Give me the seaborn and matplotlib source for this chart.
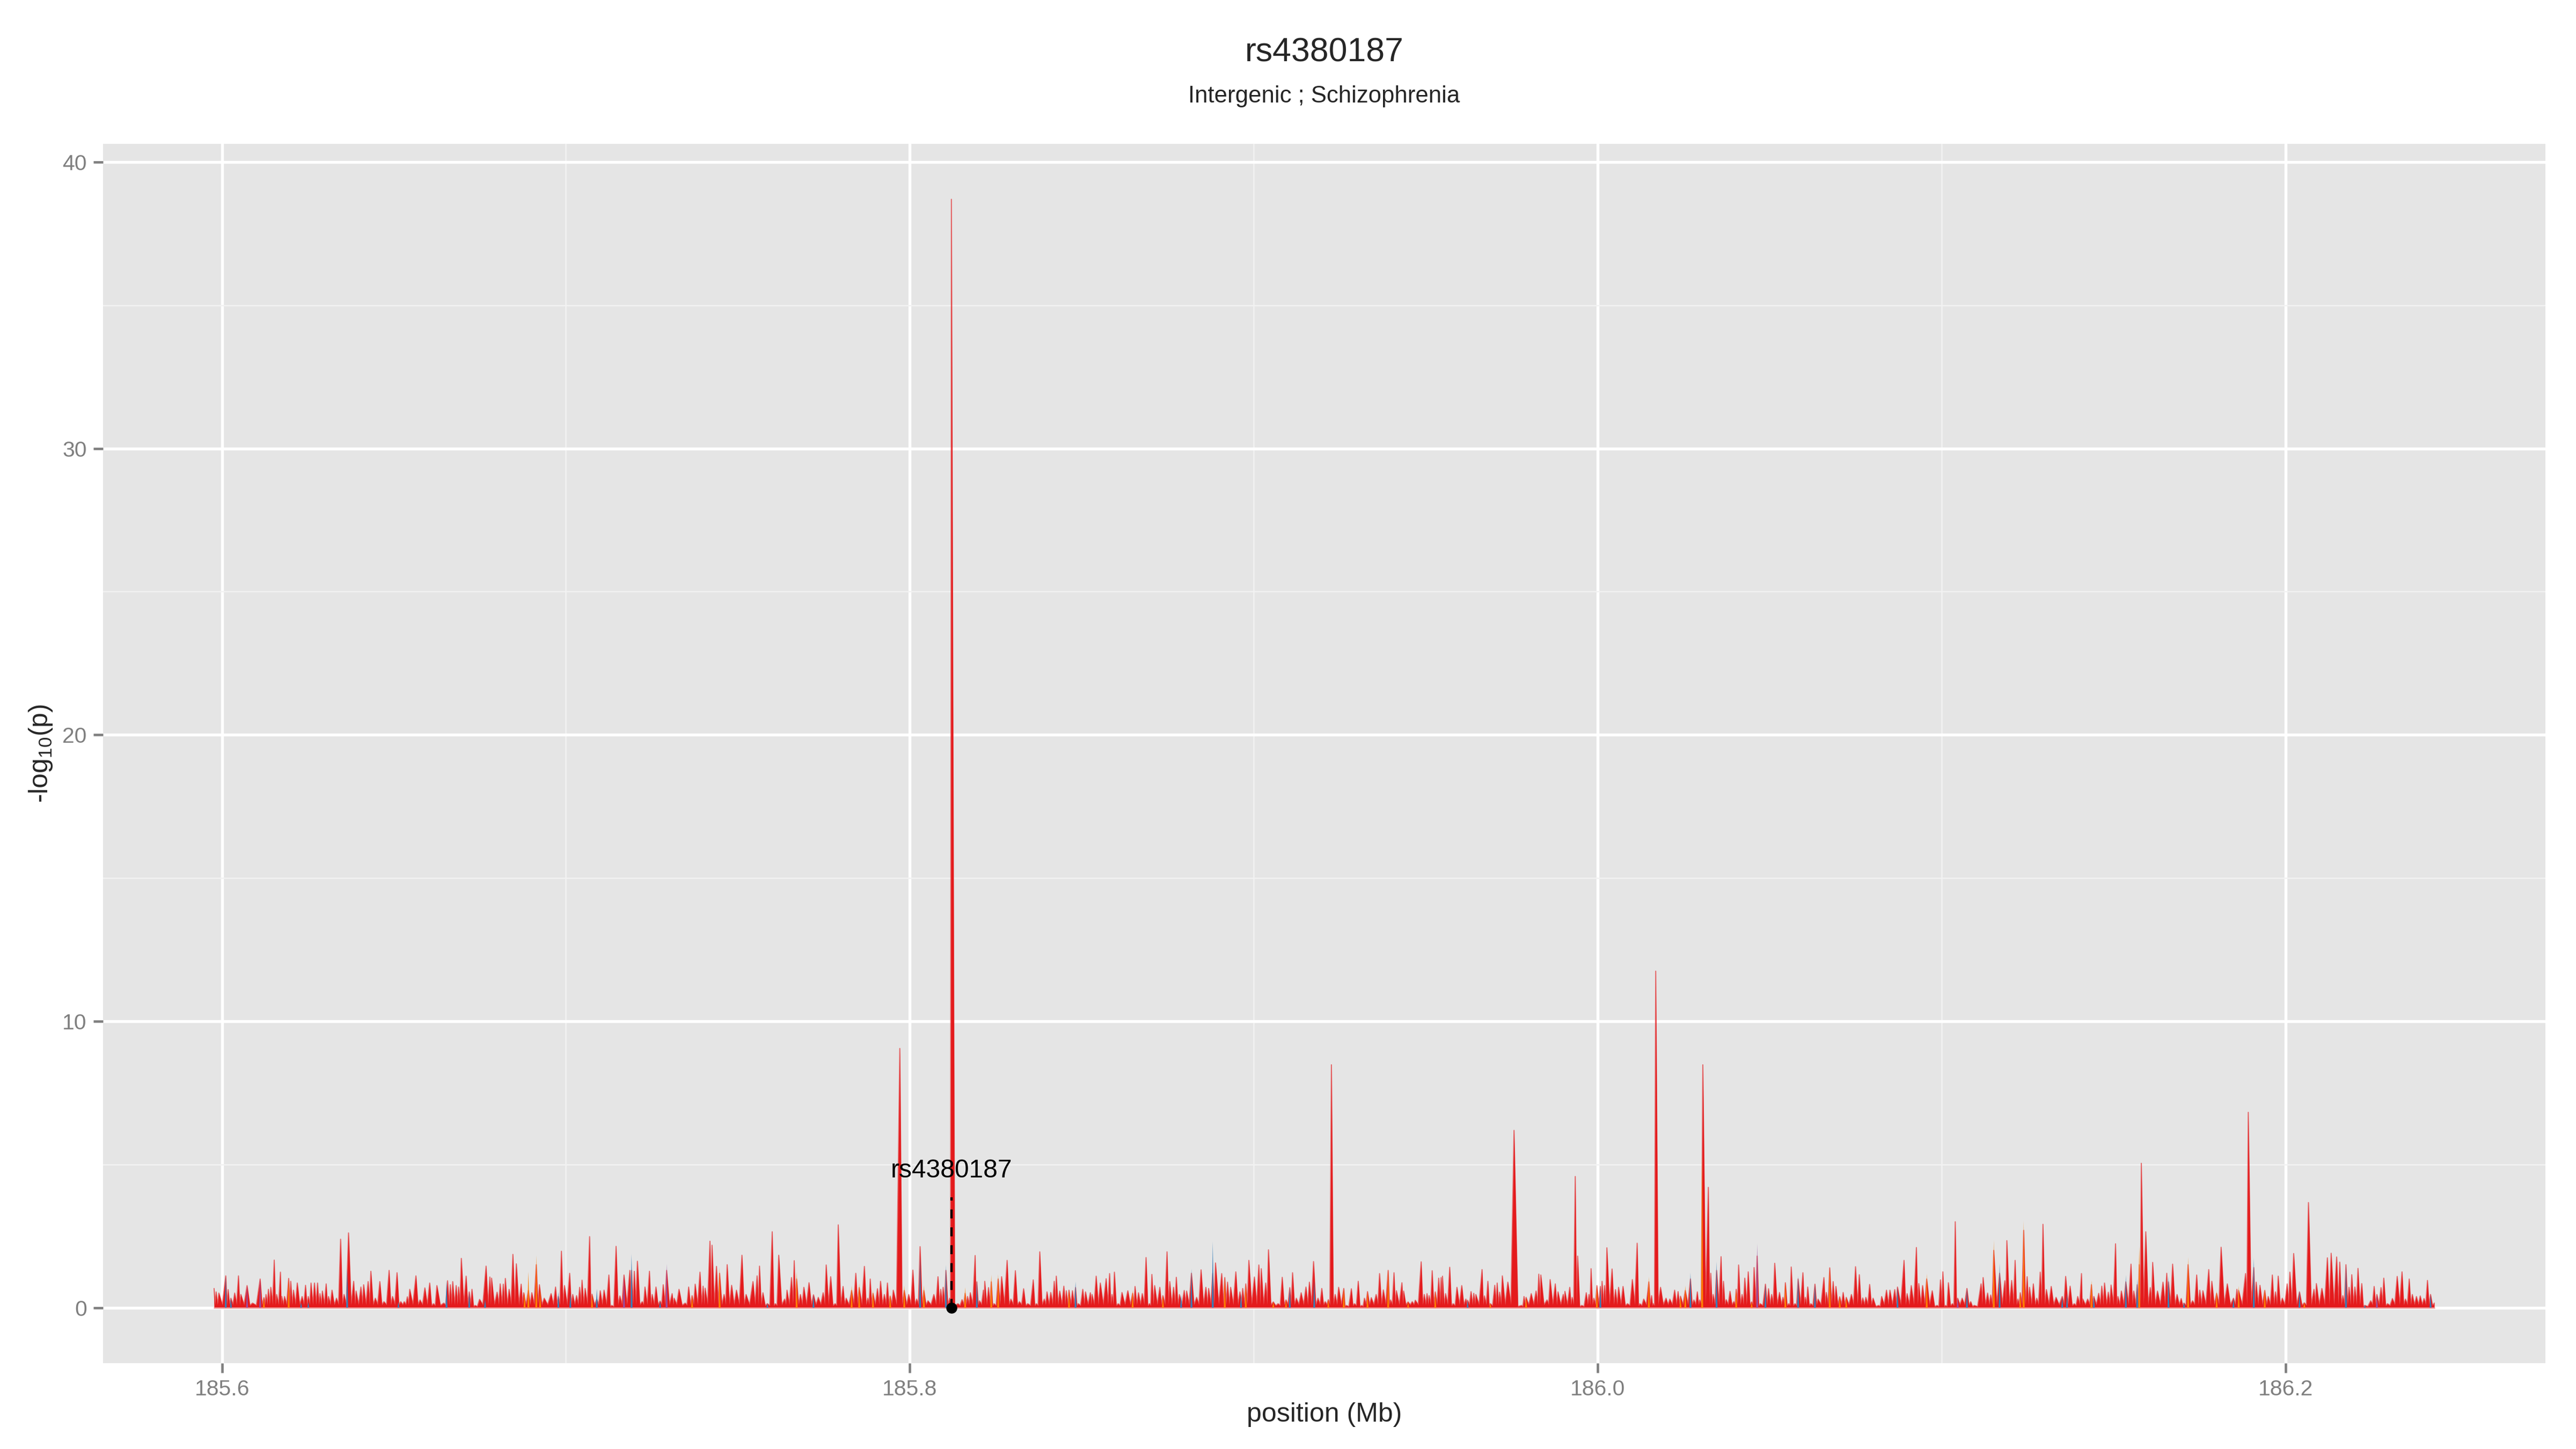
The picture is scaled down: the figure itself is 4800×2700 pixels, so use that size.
import numpy as np
import pandas as pd
import matplotlib
matplotlib.use("Agg")
import matplotlib.pyplot as plt
from matplotlib.ticker import FixedLocator
import seaborn as sns

# ---------------- data (position in Mb, -log10 p) ----------------
title = "rs4380187"
subtitle = "Intergenic ; Schizophrenia"
snp_name = "rs4380187"
snp_pos = 185.8121
snp_line_top = 3.85
snp_label_y = 4.78

x_ticks = [185.6, 185.8, 186.0, 186.2]
x_minor = [185.7, 185.9, 186.1]
y_ticks = [0, 10, 20, 30, 40]
y_minor = [5, 15, 25, 35]

red_a = [(185.5977, 0.67), (185.5983, 0.55), (185.5991, 0.51), (185.6011, 1.11), (185.6018, 0.63),
         (185.6026, 0.33), (185.6037, 0.51), (185.6048, 1.11), (185.6055, 0.46), (185.6073, 0.77),
         (185.6089, 0.16), (185.6111, 1.00), (185.6122, 0.35), (185.6128, 0.46), (185.6135, 0.64),
         (185.6142, 0.71), (185.6152, 1.66), (185.6159, 0.46), (185.6170, 1.24), (185.6174, 0.39),
         (185.6182, 0.39), (185.6194, 1.02), (185.6200, 0.92), (185.6208, 0.61), (185.6219, 0.86),
         (185.6233, 0.39), (185.6243, 0.78), (185.6251, 0.39), (185.6259, 0.86), (185.6269, 0.86),
         (185.6278, 0.86), (185.6285, 0.49), (185.6292, 0.58), (185.6303, 0.83), (185.6310, 0.39),
         (185.6320, 0.61), (185.6333, 0.33), (185.6345, 2.39), (185.6355, 0.46), (185.6368, 2.61),
         (185.6383, 0.92), (185.6390, 0.58), (185.6404, 0.72), (185.6412, 0.80), (185.6425, 0.91),
         (185.6433, 1.27), (185.6446, 0.33), (185.6459, 0.91), (185.6471, 0.21), (185.6486, 1.30),
         (185.6496, 0.39), (185.6509, 1.22), (185.6520, 0.21), (185.6530, 0.21), (185.6539, 0.38),
         (185.6546, 0.64), (185.6564, 1.11), (185.6576, 0.27), (185.6590, 0.69), (185.6604, 0.86),
         (185.6615, 0.14), (185.6625, 0.77), (185.6645, 0.16), (185.6656, 0.94), (185.6664, 0.80),
         (185.6671, 0.91), (185.6681, 0.77), (185.6688, 0.72), (185.6696, 1.72), (185.6710, 1.10),
         (185.6719, 0.55), (185.6727, 0.64), (185.6736, 0.08), (185.6749, 0.29), (185.6768, 1.45),
         (185.6779, 1.07), (185.6784, 1.03), (185.6800, 0.54), (185.6809, 0.83), (185.6818, 0.82),
         (185.6824, 1.02), (185.6835, 0.64), (185.6846, 1.86), (185.6856, 1.53), (185.6870, 0.82),
         (185.6877, 0.52), (185.6891, 0.60), (185.6901, 0.52), (185.6914, 1.50), (185.6923, 0.80),
         (185.6937, 0.33), (185.6957, 0.49), (185.6970, 0.72), (185.6978, 0.39), (185.6987, 1.97),
         (185.6996, 0.77), (185.7011, 1.20), (185.7020, 0.46), (185.7031, 0.42), (185.7040, 0.71)]

red_b = [(185.7047, 0.96), (185.7056, 0.67), (185.7069, 2.48), (185.7076, 0.47), (185.7090, 0.30),
         (185.7100, 0.59), (185.7111, 0.61), (185.7125, 1.14), (185.7133, 0.08), (185.7146, 2.14),
         (185.7157, 0.41), (185.7169, 1.14), (185.7186, 1.30), (185.7191, 1.30), (185.7199, 1.27),
         (185.7208, 1.62), (185.7222, 0.21), (185.7230, 0.72), (185.7243, 1.27), (185.7251, 0.46),
         (185.7262, 0.72), (185.7274, 0.23), (185.7283, 0.80), (185.7293, 1.30), (185.7309, 0.49),
         (185.7315, 0.33), (185.7329, 0.64), (185.7347, 0.16), (185.7357, 0.72), (185.7367, 0.42),
         (185.7376, 0.82), (185.7390, 1.24), (185.7399, 0.75), (185.7405, 0.68), (185.7419, 2.32),
         (185.7425, 2.18), (185.7438, 1.44), (185.7447, 1.20), (185.7460, 0.46), (185.7469, 1.50),
         (185.7482, 0.78), (185.7496, 0.61), (185.7512, 1.83), (185.7524, 0.46), (185.7544, 0.91),
         (185.7556, 1.11), (185.7563, 1.45), (185.7573, 0.52), (185.7586, 0.14), (185.7600, 2.65),
         (185.7609, 0.14), (185.7619, 1.83), (185.7636, 0.30), (185.7643, 0.61), (185.7656, 1.05),
         (185.7664, 1.64), (185.7671, 1.00), (185.7682, 0.46), (185.7692, 0.71), (185.7707, 0.87),
         (185.7720, 0.45), (185.7734, 0.36), (185.7748, 0.52), (185.7757, 1.49), (185.7770, 1.08),
         (185.7783, 0.14), (185.7792, 2.89), (185.7806, 0.74), (185.7815, 0.33), (185.7831, 0.60),
         (185.7843, 1.20), (185.7853, 0.70), (185.7868, 1.44), (185.7878, 0.33), (185.7885, 1.00),
         (185.7893, 0.50), (185.7906, 0.66), (185.7915, 0.92), (185.7926, 0.46), (185.7935, 0.86),
         (185.7943, 0.40), (185.7952, 0.61), (185.7971, 9.05), (185.7984, 0.60), (185.7997, 0.46),
         (185.8009, 1.31), (185.8020, 0.30), (185.8030, 2.13), (185.8041, 0.60), (185.8053, 0.24),
         (185.8070, 0.46), (185.8082, 1.08), (185.8090, 0.64), (185.8097, 0.71), (185.8105, 1.30),
         (185.8116, 0.33), (185.8121, 38.70)]

red_c = [(185.8140, 0.14), (185.8152, 0.28), (185.8161, 0.50), (185.8168, 0.39), (185.8176, 0.52),
         (185.8190, 1.82), (185.8195, 0.90), (185.8203, 0.24), (185.8214, 0.61), (185.8218, 0.92),
         (185.8229, 0.70), (185.8237, 0.90), (185.8245, 0.14), (185.8257, 1.00), (185.8267, 1.08),
         (185.8283, 1.65), (185.8294, 0.30), (185.8307, 1.29), (185.8319, 0.21), (185.8331, 0.66),
         (185.8343, 0.14), (185.8359, 0.97), (185.8368, 0.14), (185.8378, 1.95), (185.8391, 0.30),
         (185.8399, 0.55), (185.8410, 0.53), (185.8420, 0.92), (185.8426, 1.10), (185.8436, 0.58),
         (185.8448, 0.75), (185.8455, 0.59), (185.8463, 0.61), (185.8473, 0.59), (185.8482, 0.70),
         (185.8490, 0.14), (185.8503, 0.64), (185.8511, 0.55), (185.8525, 0.52), (185.8530, 0.46),
         (185.8542, 1.10), (185.8554, 0.86), (185.8571, 1.01), (185.8581, 1.19), (185.8588, 0.46),
         (185.8595, 1.24), (185.8606, 0.14), (185.8617, 0.53), (185.8634, 0.59), (185.8648, 0.50),
         (185.8655, 0.74), (185.8665, 0.52), (185.8676, 0.49), (185.8687, 1.75), (185.8697, 0.14),
         (185.8704, 1.16), (185.8712, 0.77), (185.8727, 0.71), (185.8736, 0.42), (185.8748, 1.95),
         (185.8756, 0.91), (185.8767, 0.71), (185.8775, 1.06), (185.8784, 0.46), (185.8798, 0.60),
         (185.8805, 0.58), (185.8819, 1.20), (185.8834, 0.36), (185.8847, 1.32), (185.8861, 0.71),
         (185.8869, 0.67), (185.8881, 1.20), (185.8889, 1.56), (185.8907, 1.19), (185.8916, 1.05),
         (185.8924, 0.89), (185.8933, 0.71), (185.8948, 1.25), (185.8960, 0.55), (185.8968, 0.67),
         (185.8977, 0.83), (185.8986, 1.65), (185.9002, 1.07), (185.9015, 1.49), (185.9022, 1.36),
         (185.9035, 0.86), (185.9043, 2.02), (185.9057, 0.20), (185.9071, 0.14), (185.9083, 1.06),
         (185.9094, 0.27), (185.9105, 0.70), (185.9113, 1.22), (185.9124, 0.33), (185.9138, 0.52),
         (185.9152, 0.72), (185.9162, 0.89), (185.9174, 1.61), (185.9187, 0.33), (185.9198, 0.67),
         (185.9208, 0.21), (185.9217, 0.28)]

red_d = [(185.9226, 8.48), (185.9237, 0.46), (185.9247, 0.71), (185.9262, 0.67), (185.9269, 0.08),
         (185.9284, 0.66), (185.9293, 0.14), (185.9304, 0.92), (185.9314, 0.08), (185.9322, 0.33),
         (185.9331, 0.56), (185.9342, 0.35), (185.9356, 0.46), (185.9366, 1.19), (185.9377, 0.62),
         (185.9391, 1.30), (185.9398, 0.27), (185.9408, 1.22), (185.9415, 0.59), (185.9431, 0.87),
         (185.9436, 0.58), (185.9449, 0.20), (185.9461, 0.21), (185.9470, 0.26), (185.9487, 1.60),
         (185.9496, 0.46), (185.9504, 0.49), (185.9510, 0.42), (185.9519, 1.29), (185.9528, 0.55),
         (185.9538, 1.03), (185.9545, 1.05), (185.9549, 1.10), (185.9558, 0.49), (185.9570, 1.41),
         (185.9580, 0.14), (185.9591, 0.71), (185.9605, 0.77), (185.9617, 0.30), (185.9622, 0.26),
         (185.9632, 0.56), (185.9640, 0.50), (185.9646, 0.46), (185.9664, 1.33), (185.9671, 0.41),
         (185.9681, 0.92), (185.9688, 0.14), (185.9701, 0.78), (185.9708, 0.86), (185.9715, 0.54),
         (185.9723, 1.11), (185.9739, 0.89), (185.9757, 6.19), (185.9779, 0.08), (185.9786, 0.39),
         (185.9792, 0.36), (185.9807, 0.49), (185.9821, 0.58), (185.9829, 1.17), (185.9835, 1.14),
         (185.9853, 0.27), (185.9862, 0.98), (185.9877, 0.83), (185.9885, 0.55), (185.9900, 0.46),
         (185.9905, 0.57), (185.9919, 0.71), (185.9926, 0.36), (185.9935, 4.58), (185.9942, 1.80),
         (185.9954, 0.08), (185.9967, 0.52), (185.9975, 0.46), (185.9981, 1.36), (185.9989, 0.33),
         (185.9998, 0.77), (186.0008, 0.74), (186.0013, 0.92), (186.0020, 0.77), (186.0027, 2.09),
         (186.0042, 1.35), (186.0052, 0.63), (186.0061, 0.71), (186.0074, 0.74), (186.0087, 0.14),
         (186.0101, 0.98), (186.0115, 2.25), (186.0123, 0.14), (186.0134, 0.30), (186.0149, 0.90),
         (186.0157, 0.42), (186.0162, 0.14), (186.0169, 11.75), (186.0183, 0.71), (186.0199, 0.33),
         (186.0210, 0.30), (186.0224, 0.61), (186.0234, 0.56), (186.0241, 0.40), (186.0255, 0.60),
         (186.0270, 1.00), (186.0280, 0.27), (186.0290, 0.55), (186.0297, 0.27), (186.0306, 8.48)]

red_e = [(186.0322, 4.20), (186.0329, 1.20), (186.0336, 0.46), (186.0346, 1.30), (186.0359, 1.78),
         (186.0366, 0.92), (186.0374, 0.28), (186.0385, 0.57), (186.0396, 0.21), (186.0403, 0.64),
         (186.0410, 1.49), (186.0420, 0.46), (186.0428, 1.03), (186.0438, 1.25), (186.0448, 0.20),
         (186.0455, 1.40), (186.0464, 1.80), (186.0473, 0.14), (186.0488, 0.82), (186.0497, 0.66),
         (186.0506, 0.46), (186.0515, 1.55), (186.0529, 0.53), (186.0539, 0.36), (186.0546, 0.87),
         (186.0556, 0.14), (186.0563, 1.42), (186.0574, 0.14), (186.0583, 1.00), (186.0597, 1.22),
         (186.0604, 0.36), (186.0611, 0.72), (186.0620, 0.14), (186.0632, 0.82), (186.0641, 0.30),
         (186.0658, 1.05), (186.0665, 0.53), (186.0675, 1.39), (186.0685, 0.91), (186.0693, 0.74),
         (186.0704, 0.38), (186.0714, 0.53), (186.0723, 0.36), (186.0738, 0.46), (186.0750, 1.43),
         (186.0761, 1.15), (186.0771, 0.34), (186.0780, 0.36), (186.0791, 0.81), (186.0801, 0.33),
         (186.0817, 0.08), (186.0826, 0.39), (186.0840, 0.61), (186.0850, 0.61), (186.0864, 0.63),
         (186.0872, 0.72), (186.0891, 1.65), (186.0900, 0.49), (186.0912, 0.77), (186.0927, 2.10),
         (186.0934, 0.84), (186.0945, 0.77), (186.0957, 1.00), (186.0973, 0.59), (186.0987, 0.08),
         (186.0997, 0.97), (186.1004, 1.25), (186.1012, 0.08), (186.1020, 0.87), (186.1032, 0.14),
         (186.1040, 3.00), (186.1047, 0.33), (186.1060, 0.33), (186.1074, 0.67), (186.1085, 0.21),
         (186.1095, 0.08), (186.1115, 0.83), (186.1121, 1.05), (186.1134, 0.51), (186.1143, 0.44),
         (186.1152, 2.00), (186.1169, 1.20), (186.1184, 0.94), (186.1190, 2.34), (186.1204, 0.95),
         (186.1214, 1.65), (186.1222, 0.30), (186.1229, 0.52), (186.1239, 2.70), (186.1249, 1.08),
         (186.1256, 0.71), (186.1267, 0.83), (186.1277, 0.33), (186.1287, 1.24), (186.1295, 2.91),
         (186.1305, 0.63), (186.1319, 0.74), (186.1333, 0.36), (186.1351, 0.39), (186.1361, 1.09),
         (186.1374, 0.75), (186.1386, 0.14), (186.1396, 0.39), (186.1407, 1.19)]

red_f = [(186.1411, 0.30), (186.1425, 0.30), (186.1436, 0.80), (186.1443, 0.39), (186.1457, 0.50),
         (186.1466, 0.75), (186.1474, 0.86), (186.1485, 0.54), (186.1493, 0.79), (186.1506, 2.23),
         (186.1513, 0.39), (186.1523, 0.58), (186.1536, 0.90), (186.1551, 1.52), (186.1559, 0.58),
         (186.1569, 0.80), (186.1575, 1.50), (186.1581, 5.04), (186.1594, 2.65), (186.1607, 0.70),
         (186.1614, 1.58), (186.1628, 0.58), (186.1644, 0.89), (186.1655, 1.20), (186.1660, 0.90),
         (186.1672, 1.52), (186.1685, 0.46), (186.1697, 0.32), (186.1705, 0.16), (186.1717, 1.50),
         (186.1730, 0.24), (186.1742, 1.14), (186.1751, 0.61), (186.1760, 0.59), (186.1777, 1.33),
         (186.1786, 0.92), (186.1800, 0.50), (186.1813, 2.11), (186.1831, 0.83), (186.1849, 0.33),
         (186.1859, 0.64), (186.1864, 0.60), (186.1884, 1.19), (186.1892, 6.82), (186.1908, 1.40),
         (186.1915, 0.89), (186.1926, 0.78), (186.1940, 0.60), (186.1950, 0.39), (186.1962, 1.14),
         (186.1971, 0.55), (186.1979, 1.10), (186.1991, 0.33), (186.2005, 0.83), (186.2013, 1.24),
         (186.2024, 1.89), (186.2041, 0.55), (186.2055, 0.17), (186.2067, 3.67), (186.2083, 0.64),
         (186.2090, 0.84), (186.2106, 0.67), (186.2122, 1.74), (186.2133, 1.90), (186.2149, 1.77),
         (186.2158, 1.59), (186.2167, 0.42), (186.2176, 1.50), (186.2185, 0.71), (186.2193, 1.15),
         (186.2202, 0.72), (186.2211, 1.37), (186.2222, 0.84), (186.2231, 0.08), (186.2248, 0.24),
         (186.2258, 0.74), (186.2266, 0.46), (186.2278, 0.70), (186.2286, 1.03), (186.2297, 0.14),
         (186.2311, 0.32), (186.2325, 1.09), (186.2339, 1.25), (186.2349, 0.30), (186.2360, 1.00),
         (186.2369, 0.46), (186.2381, 0.39), (186.2392, 0.41), (186.2403, 0.32), (186.2413, 0.95),
         (186.2422, 0.46), (186.2433, 0.16)]

orange_snps = [(185.6122, 0.35), (185.6194, 1.02), (185.6880, 0.55), (185.6891, 1.25), (185.6914, 1.82),
               (185.6925, 0.60), (185.7076, 0.47), (185.7367, 0.42), (185.7447, 1.41), (185.7671, 1.25),
               (185.7831, 0.77), (185.7853, 0.86), (185.7893, 0.61), (185.7943, 0.46), (185.7984, 0.77),
               (185.8041, 0.78), (185.8161, 0.71), (185.8237, 1.15), (185.8257, 1.17), (185.8463, 0.61),
               (185.8648, 0.61), (185.8736, 0.42), (185.8916, 1.05), (185.8977, 0.83), (185.9057, 0.20),
               (185.9094, 0.27), (185.9217, 0.28), (185.9262, 0.67), (185.9331, 0.56), (185.9391, 1.34),
               (185.9449, 0.20), (185.9528, 0.55), (185.9688, 0.15), (185.9792, 0.36), (185.9998, 0.77),
               (186.0149, 1.08), (186.0241, 0.40), (186.0255, 0.77), (186.0304, 5.40), (186.0403, 0.64),
               (186.0448, 0.20), (186.0546, 0.87), (186.0675, 1.39), (186.0704, 0.38), (186.0723, 0.36),
               (186.0957, 1.19), (186.1152, 2.36), (186.1229, 0.52), (186.1239, 3.03), (186.1436, 0.95),
               (186.1575, 2.14), (186.1717, 1.77), (186.1800, 0.60), (186.1864, 0.76), (186.1940, 0.66),
               (186.2055, 0.17)]

blue_snps = [(185.6011, 1.11), (185.6026, 0.33), (185.6230, 0.18), (185.6251, 0.20), (185.6364, 1.39),
             (185.6513, 0.20), (185.6653, 0.95), (185.6719, 0.55), (185.6765, 0.30), (185.6978, 0.55),
             (185.7013, 0.50), (185.7090, 0.66), (185.7191, 1.88), (185.7274, 0.23), (185.7586, 0.15),
             (185.7720, 0.45), (185.8030, 1.80), (185.8105, 1.49), (185.8195, 0.97), (185.8482, 0.91),
             (185.8789, 0.45), (185.8819, 1.36), (185.8881, 2.31), (185.8963, 0.50), (185.9105, 0.70),
             (185.9176, 0.95), (185.9622, 0.25), (186.0008, 0.74), (186.0270, 1.22), (186.0346, 1.61),
             (186.0488, 0.82), (186.0583, 1.11), (186.0632, 0.82), (186.0872, 0.72), (186.1074, 0.67),
             (186.1169, 1.55), (186.1351, 0.38), (186.1365, 0.50), (186.1443, 0.40), (186.1536, 1.14),
             (186.1569, 1.00), (186.1660, 1.10), (186.1705, 0.18), (186.1849, 0.33), (186.1908, 1.74),
             (186.2041, 0.60), (186.2176, 1.50), (186.2231, 0.08), (186.2422, 0.46)]

purple_snps = [(185.6073, 0.77), (185.6111, 1.00), (185.7169, 1.14), (185.7293, 1.53),
               (186.0464, 2.23), (186.1047, 0.33), (186.2266, 0.46)]

# ---------------- style ----------------
RED, ORANGE, BLUE, PURPLE = "#E41A1C", "#FF7F00", "#377EB8", "#984EA3"
GREY_TXT = "#7F7F7F"

sns.set_theme(style="darkgrid")
plt.rcParams["font.family"] = ["Liberation Sans", "DejaVu Sans"]
plt.rcParams["mathtext.default"] = "regular"
plt.rcParams["axes.facecolor"] = "#E5E5E5"

fig = plt.figure(figsize=(16, 9), dpi=300)
ax = fig.add_axes([0.04, 0.0593, 0.9481, 0.8414])


def spike_trace(snps, trough=0.1):
    p = np.array([s[0] for s in snps], float)
    v = np.array([s[1] for s in snps], float)
    o = np.argsort(p)
    p, v = p[o], v[o]
    mid = (p[:-1] + p[1:]) / 2
    low = np.minimum(trough, 0.5 * np.minimum(v[:-1], v[1:]))
    x = np.empty(2 * len(p) - 1)
    y = np.empty_like(x)
    x[0::2], y[0::2] = p, v
    x[1::2], y[1::2] = mid, low
    return pd.DataFrame({"pos": x, "logp": y})


red_df = spike_trace(red_a + red_b + red_c + red_d + red_e + red_f)
ax.fill_between(red_df["pos"], 0, red_df["logp"], color=RED, linewidth=0, zorder=2)
sns.lineplot(data=red_df, x="pos", y="logp", ax=ax, color=RED, lw=0.5, alpha=0.6,
             estimator=None, sort=False, zorder=3)

half_w = 0.00028
for snps, col in ((orange_snps, ORANGE), (blue_snps, BLUE), (purple_snps, PURPLE)):
    for p, v in snps:
        ax.fill([p - half_w, p, p + half_w], [0, v, 0], color=col, lw=0, zorder=4)

# thin pinkish baseline under the data only
ax.plot([red_df["pos"].min(), red_df["pos"].max()], [0, 0], color="#F0A0A0",
        lw=0.6, zorder=3)

# SNP marker
ax.plot([snp_pos, snp_pos], [0, snp_line_top], color="black", lw=1.0,
        dashes=(4, 4), zorder=6)
ax.scatter([snp_pos], [0], s=24, color="black", zorder=7, linewidths=0)
ax.text(snp_pos, snp_label_y, snp_name, ha="center", va="center", fontsize=11.5,
        color="black", zorder=8)

# axes
all_pos = [s[0] for s in red_a + red_f]
xmin, xmax = min(all_pos), max(all_pos)
xr = xmax - xmin
ax.set_xlim(xmin - 0.05 * xr, xmax + 0.05 * xr)
ymax = 38.70
ax.set_ylim(-0.05 * ymax, 1.05 * ymax)

ax.xaxis.set_major_locator(FixedLocator(x_ticks))
ax.xaxis.set_minor_locator(FixedLocator(x_minor))
ax.yaxis.set_major_locator(FixedLocator(y_ticks))
ax.yaxis.set_minor_locator(FixedLocator(y_minor))
ax.set_xticklabels([f"{t:.1f}" for t in x_ticks])
ax.set_yticklabels([str(t) for t in y_ticks])

ax.grid(which="major", color="white", lw=1.3)
ax.grid(which="minor", color="#F2F2F2", lw=0.6)
ax.set_axisbelow(True)
for s in ax.spines.values():
    s.set_visible(False)
ax.tick_params(which="major", length=4.25, width=1.1, color=GREY_TXT,
               labelcolor=GREY_TXT, labelsize=9.8, pad=3,
               bottom=True, left=True)
ax.tick_params(which="minor", length=0)
ax.set_xlabel("")
ax.set_ylabel("")

cx = 0.04 + 0.9481 / 2
fig.text(cx, 1 - 2636 / 2700, "position (Mb)", ha="center", va="center", fontsize=12)
fig.text(76 / 4800, 0.0593 + 0.8414 / 2, "-log$_{10}$(p)", ha="center", va="center",
         rotation=90, fontsize=12)
fig.text(cx, 1 - 98 / 2700, title, ha="center", va="center", fontsize=15)
fig.text(cx, 1 - 180 / 2700, subtitle, ha="center", va="center", fontsize=10.5)

fig.savefig("out.png", dpi=300, facecolor="white")
